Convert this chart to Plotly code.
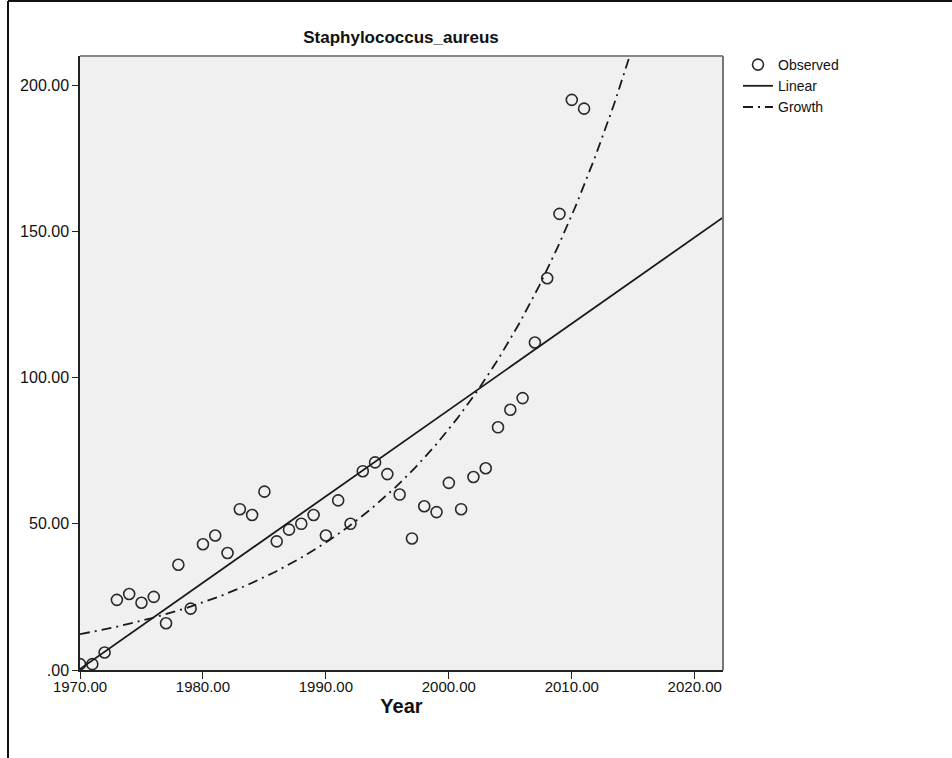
import numpy as np
import plotly.graph_objects as go

title = "Staphylococcus_aureus"
x_label = "Year"

years = list(range(1970, 2012))
observed = [2, 2, 6, 24, 26, 23, 25, 16, 36, 21,
            43, 46, 40, 55, 53, 61, 44, 48, 50, 53,
            46, 58, 50, 68, 71, 67, 60, 45, 56, 54,
            64, 55, 66, 69, 83, 89, 93, 112, 134, 156,
            195, 192]

x_ticks = [1970, 1980, 1990, 2000, 2010, 2020]
x_tick_labels = ["1970.00", "1980.00", "1990.00", "2000.00", "2010.00", "2020.00"]
y_ticks = [0, 50, 100, 150, 200]
y_tick_labels = [".00", "50.00", "100.00", "150.00", "200.00"]

x_range = [1970, 2022.3]
y_range = [0, 210]

# model fits (SPSS curve estimation: linear and growth)
xa = np.array(years, dtype=float)
ya = np.array(observed, dtype=float)
lin_b1, lin_b0 = np.polyfit(xa, ya, 1)
gr_b1, gr_b0 = np.polyfit(xa, np.log(ya), 1)
xf = np.linspace(x_range[0], x_range[1], 400)
lin_fit = lin_b0 + lin_b1 * xf
gr_fit = np.exp(gr_b0 + gr_b1 * xf)

fig = go.Figure()
fig.add_trace(go.Scatter(
    x=years, y=observed, mode="markers", name="Observed",
    marker=dict(symbol="circle-open", size=11, color="#2a2a2a", line=dict(width=1.6, color="#2a2a2a")),
))
fig.add_trace(go.Scatter(
    x=xf, y=lin_fit, mode="lines", name="Linear",
    line=dict(color="#1a1a1a", width=1.8),
))
fig.add_trace(go.Scatter(
    x=xf, y=gr_fit, mode="lines", name="Growth",
    line=dict(color="#1a1a1a", width=1.8, dash="10px,5px,2px,5px"),
))

L, R, T, B = 80, 229, 56, 88
W, H = 952, 758
pw, ph = W - L - R, H - T - B
fx = lambda px: (px - L) / pw
fy = lambda py: (H - B - py) / ph

fig.update_layout(
    width=W, height=H,
    margin=dict(l=L, r=R, t=T, b=B),
    paper_bgcolor="white",
    plot_bgcolor="#f0f0f0",
    font=dict(family="Liberation Sans, Arial, sans-serif", size=14, color="#111"),
    title=dict(text="<b>" + title + "</b>", x=401 / W, xanchor="center",
               y=1 - 37 / H, yanchor="middle", font=dict(size=17, color="#111")),
    showlegend=True,
    legend=dict(x=fx(738), y=fy(49), xanchor="left", yanchor="top", bgcolor="rgba(0,0,0,0)",
                font=dict(size=14), tracegroupgap=0, itemwidth=30),
    xaxis=dict(range=x_range, tickvals=x_ticks, ticktext=x_tick_labels, showgrid=False, zeroline=False,
               ticks="outside", ticklen=7, tickcolor="#222", showline=True, linecolor="#222", linewidth=1.5,
               tickfont=dict(size=15), ticklabelstandoff=-5,
               title=dict(text="<b>" + x_label + "</b>", font=dict(size=20), standoff=0)),
    yaxis=dict(range=y_range, tickvals=y_ticks, ticktext=y_tick_labels, showgrid=False, zeroline=False,
               ticks="outside", ticklen=6, tickcolor="#222", showline=True, linecolor="#222", linewidth=1.5,
               tickfont=dict(size=16), ticklabelstandoff=0),
    shapes=[
        dict(type="line", xref="paper", yref="paper", x0=0, x1=1, y0=1, y1=1,
             line=dict(color="#888", width=2)),
        dict(type="line", xref="paper", yref="paper", x0=1, x1=1, y0=0, y1=1,
             line=dict(color="#777", width=2)),
        dict(type="line", xref="paper", yref="paper", x0=fx(8), x1=fx(8), y0=fy(H), y1=fy(1),
             line=dict(color="#111", width=2)),
        dict(type="line", xref="paper", yref="paper", x0=fx(8), x1=fx(W), y0=fy(1), y1=fy(1),
             line=dict(color="#111", width=2)),
    ],
)
fig.write_html("out.html")
